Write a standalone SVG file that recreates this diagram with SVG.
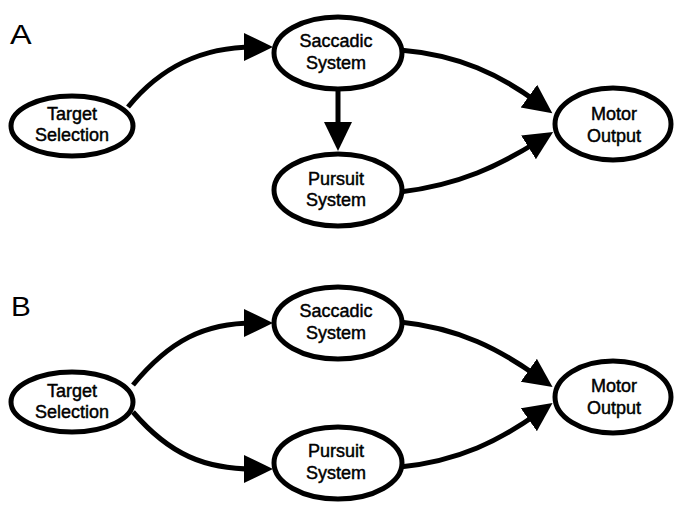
<svg xmlns="http://www.w3.org/2000/svg" width="676" height="505" viewBox="0 0 676 505">
<style>
.node ellipse{fill:#fff;stroke:#000;stroke-width:5}
.node text{font-family:"Liberation Sans",Arial,sans-serif;font-size:18px;text-anchor:middle;fill:#000;stroke:#000;stroke-width:0.45}
.edge{fill:none;stroke:#000;stroke-width:5}
.panel{font-family:"Liberation Sans",Arial,sans-serif;font-size:27px;fill:#000}
</style>
<defs>
<marker id="ah" markerUnits="userSpaceOnUse" markerWidth="32" markerHeight="30" refX="10" refY="14" orient="auto" viewBox="0 0 32 30">
<path d="M0,0 L29,14 L0,28 Z" fill="#000"/>
</marker>
</defs>
<text class="panel" transform="translate(10,44) scale(1.2,1)">A</text>
<text class="panel" transform="translate(11,316) scale(1.1,1)">B</text>
<g id="connectors">
<path class="edge" marker-end="url(#ah)" d="M128,107 C160,68 200,47 254,47"/>
<path class="edge" marker-end="url(#ah)" d="M338,89 L338,132"/>
<path class="edge" marker-end="url(#ah)" d="M400,50 C460,55 500,75 537,102"/>
<path class="edge" marker-end="url(#ah)" d="M400,192 C460,185 500,165 537,142"/>
<path class="edge" marker-end="url(#ah)" d="M133,385 C170,340 205,323 254,323"/>
<path class="edge" marker-end="url(#ah)" d="M133,412 C170,455 205,469 254,469"/>
<path class="edge" marker-end="url(#ah)" d="M400,322 C460,328 500,350 537,376"/>
<path class="edge" marker-end="url(#ah)" d="M400,467 C460,461 500,440 537,414"/>
</g>
<g id="a-target" class="node"><ellipse cx="72" cy="126" rx="61" ry="30"/><text x="72" y="120">Target</text><text x="72" y="141">Selection</text></g>
<g id="a-saccadic" class="node"><ellipse cx="338" cy="53" rx="64" ry="36"/><text x="336" y="47">Saccadic</text><text x="336" y="69">System</text></g>
<g id="a-pursuit" class="node"><ellipse cx="338" cy="190" rx="64" ry="36"/><text x="336" y="185">Pursuit</text><text x="336" y="206">System</text></g>
<g id="a-motor" class="node"><ellipse cx="613" cy="124" rx="58" ry="36"/><text x="614" y="120">Motor</text><text x="614" y="142">Output</text></g>
<g id="b-target" class="node"><ellipse cx="72" cy="402" rx="61" ry="30"/><text x="72" y="397">Target</text><text x="72" y="418">Selection</text></g>
<g id="b-saccadic" class="node"><ellipse cx="338" cy="323" rx="64" ry="36"/><text x="336" y="317">Saccadic</text><text x="336" y="339">System</text></g>
<g id="b-pursuit" class="node"><ellipse cx="338" cy="463" rx="64" ry="36"/><text x="336" y="457">Pursuit</text><text x="336" y="479">System</text></g>
<g id="b-motor" class="node"><ellipse cx="613" cy="397" rx="58" ry="36"/><text x="614" y="392">Motor</text><text x="614" y="414">Output</text></g>
</svg>
